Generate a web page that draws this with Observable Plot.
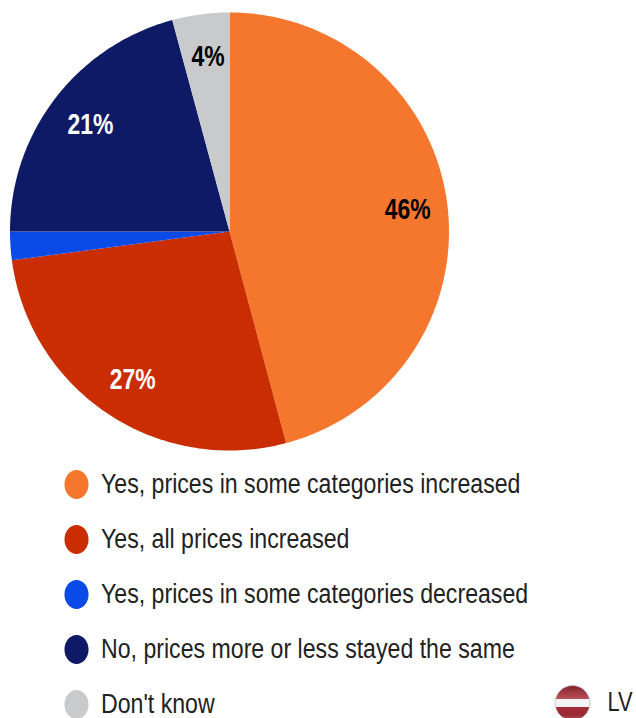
<!DOCTYPE html>
<html>
<head>
<meta charset="utf-8">
<script src="https://cdn.jsdelivr.net/npm/d3@7"></script>
<script src="https://cdn.jsdelivr.net/npm/@observablehq/plot@0.6"></script>
<style>
html,body{margin:0;padding:0;background:#fff;overflow:hidden}
svg{display:block}
</style>
</head>
<body>
<div id="chart"></div>
<script>
const categories = [
  "Yes, prices in some categories increased",
  "Yes, all prices increased",
  "Yes, prices in some categories decreased",
  "No, prices more or less stayed the same",
  "Don't know"
];
const shares = [45.85, 27.05, 2.1, 20.8, 4.2];
const labels = ["46%", "27%", "", "21%", "4%"];
const colors = ["#f5772e", "#cb2d03", "#0a4ae6", "#0e1a66", "#c9cacc"];
const labelColors = ["#000", "#fff", "#fff", "#fff", "#000"];
const countryCode = ["LV"];

const FONT = "'Liberation Sans',Arial,sans-serif";
const color = {domain: categories, range: colors};

// Horizontally condenses each text of a mark, around its own anchor.
const condensed = ratio => (index, scales, values, dimensions, context, next) => {
  const g = next(index, scales, values, dimensions, context);
  g.querySelectorAll("text").forEach(t => {
    t.setAttribute("transform", `${t.getAttribute("transform") || ""} scale(${ratio} 1)`);
  });
  return g;
};

const slices = d3.pie().sort(null).value(d => d)(shares);
const wedgePoints = slices.flatMap((s, i) => {
  const steps = Math.max(2, Math.ceil((s.endAngle - s.startAngle) * 60));
  const rim = d3.range(steps + 1).map(k => {
    const a = s.startAngle + (s.endAngle - s.startAngle) * k / steps;
    return {category: categories[i], x: Math.sin(a), y: Math.cos(a)};
  });
  return [{category: categories[i], x: 0, y: 0}, ...rim];
});
const labelPoints = slices.map((s, i) => {
  const a = (s.startAngle + s.endAngle) / 2;
  return {text: labels[i], fill: labelColors[i], x: 0.81 * Math.sin(a), y: 0.81 * Math.cos(a)};
}).filter(d => d.text);

const pie = Plot.plot({
  width: 636, height: 452, margin: 0,
  x: {domain: [-1, 1], range: [9.5, 448.5], axis: null},
  y: {domain: [-1, 1], range: [450, 12], axis: null},
  color,
  marks: [
    Plot.line(wedgePoints, {x: "x", y: "y", z: "category", fill: "category", stroke: "none", curve: "linear"}),
    Plot.text(labelPoints, {x: "x", y: "y", dx: 2, dy: 1, text: "text", fill: d => d.fill, fontSize: 29, fontWeight: "bold", fontFamily: FONT, render: condensed(0.79)})
  ]
});

function ellipseSymbol(ratio) {
  return {draw(ctx, size) {
    const r = Math.sqrt(size / Math.PI), rx = r * ratio, ry = r, k = 0.5523;
    ctx.moveTo(rx, 0);
    ctx.bezierCurveTo(rx, k * ry, k * rx, ry, 0, ry);
    ctx.bezierCurveTo(-k * rx, ry, -rx, k * ry, -rx, 0);
    ctx.bezierCurveTo(-rx, -k * ry, -k * rx, -ry, 0, -ry);
    ctx.bezierCurveTo(k * rx, -ry, rx, -k * ry, rx, 0);
    ctx.closePath();
  }};
}

const flagDefs = () => {
  const svgNS = "http://www.w3.org/2000/svg";
  const defs = document.createElementNS(svgNS, "defs");
  const g = document.createElementNS(svgNS, "linearGradient");
  g.setAttribute("id", "lvFlag");
  g.setAttribute("x1", "0"); g.setAttribute("y1", "0");
  g.setAttribute("x2", "0"); g.setAttribute("y2", "1");
  [[0, "#7e1f28"], [0.2, "#a33a43"], [0.38, "#b65058"], [0.385, "#f4f4f4"], [0.6, "#f4f4f4"], [0.605, "#a52a33"], [0.85, "#9a2a33"], [1, "#b8626a"]].forEach(([o, c]) => {
    const s = document.createElementNS(svgNS, "stop");
    s.setAttribute("offset", o); s.setAttribute("stop-color", c);
    g.appendChild(s);
  });
  defs.appendChild(g);
  return defs;
};

const legend = Plot.plot({
  width: 636, height: 266, margin: 0,
  y: {type: "point", domain: categories, range: [30, 253], padding: 0, axis: null},
  color,
  marks: [
    flagDefs,
    Plot.dot(categories, {y: d => d, fill: d => d, r: 14.5, symbol: ellipseSymbol(0.83), frameAnchor: "left", dx: 76}),
    Plot.text(categories, {y: d => d, text: d => d, frameAnchor: "left", textAnchor: "start", dx: 100.5, fontSize: 27, fill: "#222", fontFamily: FONT, render: condensed(0.857)}),
    Plot.dot(countryCode, {frameAnchor: "bottom-right", dx: -64, dy: -15.5, r: 17.5, fill: "url(#lvFlag)", stroke: "#c9c9c9", strokeWidth: 1}),
    Plot.text(countryCode, {frameAnchor: "bottom-right", dx: -4, dy: -16, lineAnchor: "middle", textAnchor: "end", fontSize: 28, fill: "#222", fontFamily: FONT, render: condensed(0.78)})
  ]
});

const root = document.getElementById("chart");
root.appendChild(pie);
root.appendChild(legend);
</script>
</body>
</html>
